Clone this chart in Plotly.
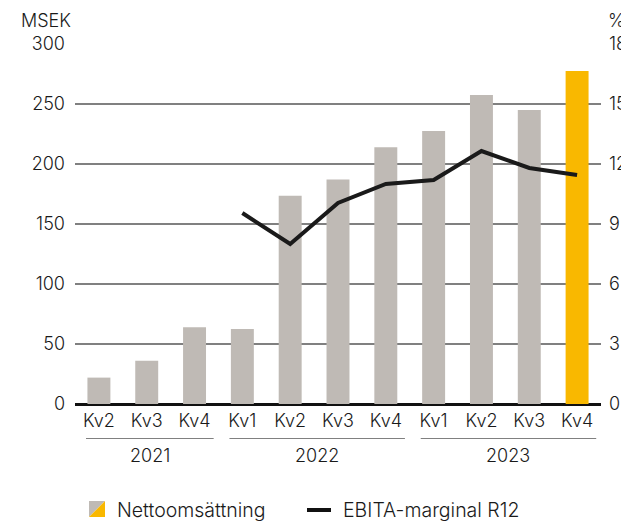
import plotly.graph_objects as go

years = ["2021", "2021", "2021", "2022", "2022", "2022", "2022", "2023", "2023", "2023", "2023"]
quarters = ["Kv2", "Kv3", "Kv4", "Kv1", "Kv2", "Kv3", "Kv4", "Kv1", "Kv2", "Kv3", "Kv4"]
net_sales = [22, 36, 64, 62.5, 173.5, 187, 214, 227.5, 257.5, 245, 277.5]
ebita_margin = [None, None, None, 9.55, 8.0, 10.05, 11.0, 11.2, 12.65, 11.8, 11.45]
year_groups = ["2021", "2022", "2023"]

GRAY = "#BFBAB5"
YELLOW = "#F9B800"
TXT = "#1a1a1a"
FONT = "Inter"
WT = 300
FS = 18

W, H = 621, 521
L, R, T, B = 75, 20, 44, 117
PW, PH = W - L - R, H - T - B

def px(x):
    return (x - L) / PW

def py(y):
    return (H - B - y) / PH

x_idx = list(range(len(quarters)))
bar_colors = [GRAY] * (len(net_sales) - 1) + [YELLOW]

fig = go.Figure()
fig.add_trace(go.Bar(x=x_idx, y=net_sales, marker=dict(color=bar_colors, line=dict(width=0)),
                     width=0.48, name="Nettoomsättning", showlegend=False))
fig.add_trace(go.Scatter(x=x_idx, y=ebita_margin, yaxis="y2", mode="lines",
                         line=dict(color="#1a1a1a", width=4), name="EBITA-marginal R12",
                         showlegend=False))

tickfont = dict(family=FONT, size=FS, color=TXT, weight=WT)

fig.update_layout(
    width=W, height=H,
    margin=dict(l=L, r=R, t=T, b=B, autoexpand=False),
    plot_bgcolor="white", paper_bgcolor="white",
    showlegend=False,
    bargap=0.52,
    font=dict(family=FONT, color=TXT, size=FS),
    xaxis=dict(tickmode="array", tickvals=x_idx, ticktext=quarters, automargin=False,
               range=[-0.5, len(quarters) - 0.5], showgrid=False, zeroline=False,
               showline=False, ticks="", tickfont=tickfont, ticklabelstandoff=4),
    yaxis=dict(range=[0, 300], dtick=50, showgrid=True, gridcolor="#808080", gridwidth=2,
               zeroline=True, zerolinecolor="#111111", zerolinewidth=2.5, automargin=False,
               ticks="", tickfont=tickfont, ticklabelstandoff=9, showline=False),
    yaxis2=dict(range=[0, 18], dtick=3, overlaying="y", side="right", showgrid=False,
                zeroline=False, ticks="", tickfont=tickfont, ticklabelstandoff=7,
                showline=False, automargin=False),
)

shapes = []
annotations = []
for yr in year_groups:
    idxs = [i for i, y in enumerate(years) if y == yr]
    x0, x1 = idxs[0] - 0.27, idxs[-1] + 0.4
    shapes.append(dict(type="line", xref="x", yref="paper", x0=x0, x1=x1,
                       y0=py(438.5), y1=py(438.5), line=dict(color="#808080", width=1)))
    annotations.append(dict(x=(x0 + x1) / 2, y=py(455.5), xref="x", yref="paper", text=yr,
                            showarrow=False, xanchor="center", yanchor="middle",
                            font=dict(family=FONT, size=FS, color=TXT, weight=WT)))

annotations.append(dict(x=px(19), y=py(20), xref="paper", yref="paper", text="MSEK",
                        showarrow=False, xanchor="left", yanchor="middle",
                        font=dict(family=FONT, size=FS, color=TXT, weight=WT)))
annotations.append(dict(x=px(606), y=py(20), xref="paper", yref="paper", text="%",
                        showarrow=False, xanchor="left", yanchor="middle",
                        font=dict(family=FONT, size=FS, color=TXT, weight=WT)))

# legend
sx0, sx1, sy0, sy1 = px(89), px(105), py(517), py(501)
shapes.append(dict(type="path", xref="paper", yref="paper",
                   path=f"M {sx0} {sy0} L {sx0} {sy1} L {sx1} {sy1} Z",
                   fillcolor=GRAY, line=dict(width=0)))
shapes.append(dict(type="path", xref="paper", yref="paper",
                   path=f"M {sx0} {sy0} L {sx1} {sy1} L {sx1} {sy0} Z",
                   fillcolor=YELLOW, line=dict(width=0)))
shapes.append(dict(type="line", xref="paper", yref="paper", x0=px(307), x1=px(331),
                   y0=py(510), y1=py(510), line=dict(color="#111111", width=4)))
annotations.append(dict(x=px(115), y=py(509.5), xref="paper", yref="paper",
                        text="Nettoomsättning", showarrow=False, xanchor="left",
                        yanchor="middle", font=dict(family=FONT, size=19.5, color=TXT, weight=WT)))
annotations.append(dict(x=px(341), y=py(509.5), xref="paper", yref="paper",
                        text="EBITA-marginal R12", showarrow=False, xanchor="left",
                        yanchor="middle", font=dict(family=FONT, size=19.5, color=TXT, weight=WT)))

fig.update_layout(shapes=shapes, annotations=annotations)
fig.write_html("out.html", config=dict(displayModeBar=False),
               post_script="document.body.style.margin='0';document.body.style.overflow='hidden';")
